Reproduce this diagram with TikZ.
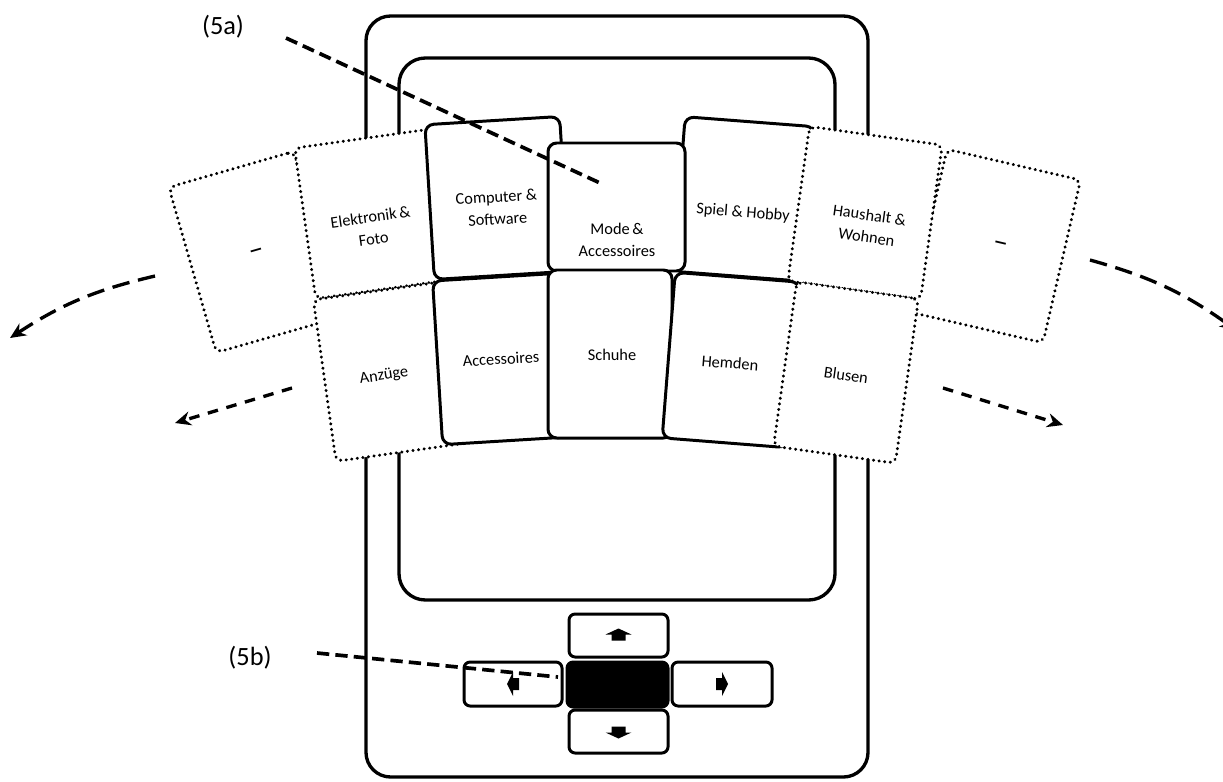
\documentclass[tikz,border=0pt]{standalone}
\usepackage{fontspec}
\setmainfont{Carlito}
\usetikzlibrary{arrows.meta}
\begin{document}
\begin{tikzpicture}[x=0.02cm,y=-0.02cm,
  devframe/.style n args={3}{draw,line width=1.9pt,rounded corners=#3,minimum width=#1*0.02cm,minimum height=#2*0.02cm,inner sep=0pt,outer sep=0pt},
  solidcard/.style n args={3}{draw,fill=white,line width=1.7pt,rounded corners=5pt,minimum width=#1*0.02cm,minimum height=#2*0.02cm,rotate=#3,inner sep=0pt,outer sep=0pt},
  dotcard/.style n args={3}{draw,fill=white,line width=1.8pt,line cap=round,dash pattern=on 0.1pt off 3.1pt,rounded corners=4pt,minimum width=#1*0.02cm,minimum height=#2*0.02cm,rotate=#3,inner sep=0pt,outer sep=0pt},
  lab/.style={font=\fontsize{9.3}{12.6}\selectfont,align=center,inner sep=0pt},
  dashlab/.style={font=\fontsize{17}{17}\selectfont,inner sep=0pt},
  btn/.style n args={2}{draw,line width=1.7pt,rounded corners=3.5pt,minimum width=#1*0.02cm,minimum height=#2*0.02cm,inner sep=0pt,outer sep=0pt},
  callout/.style={line width=2.1pt,dash pattern=on 7pt off 3.5pt},
  longdash/.style={line width=1.9pt,dash pattern=on 10pt off 5pt,-{Stealth[length=9pt,width=8pt]}},
  shortdash/.style={line width=1.9pt,dash pattern=on 6pt off 5pt,-{Stealth[length=9pt,width=8pt]}},
  reflab/.style={font=\fontsize{15}{15}\selectfont,inner sep=0pt}
]
\useasboundingbox (0,0) rectangle (1223,781);
\clip (0,0) rectangle (1223,781);
\fill[white] (0,0) rectangle (1223,781);

% device
\node[devframe={502}{761}{14pt}] (outer) at (617,396.5) {};
\node[devframe={436}{542}{15pt}] (screen) at (617,329) {};

% upper row of cards
\node[dotcard={130}{172}{16}] (u1) at (255,252) {};
\node[dotcard={137}{167}{-13}] (u7) at (995,246) {};
\node[dotcard={135}{152}{8}] (u2) at (372,214) {};
\node[solidcard={130}{155}{-4.4}] (u5) at (744,199) {};
\node[solidcard={135}{155}{3.5}] (u3) at (497,198) {};
\node[dotcard={134}{156}{-8}] (u6) at (865,213) {};
\node[solidcard={137}{128}{0}] (u4) at (616.5,207) {};

% lower row of cards
\node[dotcard={138}{163}{8}] (l1) at (393,371) {};
\node[solidcard={125}{164}{3.5}] (l2) at (500,359) {};
\node[solidcard={124}{168}{0}] (l3) at (610,354) {};
\node[solidcard={125}{166}{-4.5}] (l4) at (731,360) {};
\node[dotcard={123}{166}{-8}] (l5) at (846,372.5) {};

% card labels
\node[dashlab,rotate=16] (t1) at (257,254) {–};
\node[lab,rotate=8] (t2) at (372,228) {Elektronik\,\&\\Foto};
\node[lab,rotate=3.5] (t3) at (497,208) {Computer \&\\Software};
\node[lab] (t4) at (617,240) {Mode\,\&\\Accessoires};
\node[lab,rotate=-4.4] (t5) at (743,213) {Spiel \& Hobby};
\node[lab,rotate=-8] (t6) at (868,226) {Haushalt \&\\Wohnen};
\node[dashlab,rotate=-13] (t7) at (1000,247) {–};
\node[lab,rotate=8] (b1) at (384,376) {Anzüge};
\node[lab,rotate=3.5] (b2) at (501,359) {Accessoires};
\node[lab] (b3) at (612,355) {Schuhe};
\node[lab,rotate=-4.5] (b4) at (730,363) {Hemden};
\node[lab,rotate=-8] (b5) at (846,375) {Blusen};

% buttons
\node[btn={99}{43}] (bup) at (618.5,635.5) {};
\node[btn={101}{45},fill=black] (bok) at (617.5,684.5) {};
\node[btn={98}{44}] (bleft) at (513,684) {};
\node[btn={100}{44}] (bright) at (722,684) {};
\node[btn={99}{43}] (bdown) at (618.5,731.5) {};

\fill[shift={(bup.center)}] (0,-7) -- (13,-1) -- (7,-1) -- (7,5) -- (-7,5) -- (-7,-1) -- (-13,-1) -- cycle;
\fill[shift={(bdown.center)}] (0,7) -- (13,1) -- (7,1) -- (7,-5) -- (-7,-5) -- (-7,1) -- (-13,1) -- cycle;
\fill[shift={(bright.center)}] (6,0) -- (0,-12) -- (0,-6) -- (-6,-6) -- (-6,6) -- (0,6) -- (0,12) -- cycle;
\fill[shift={(bleft.center)}] (-6,0) -- (0,-12) -- (0,-6) -- (6,-6) -- (6,6) -- (0,6) -- (0,12) -- cycle;

% reference labels and callouts
\node[reflab] (r5a) at (223,27) {(5a)};
\node[reflab] (r5b) at (250,658) {(5b)};
\coordinate (s5a) at (286,38);
\coordinate (e5a) at (600,183);
\coordinate (s5b) at (317,653);
\coordinate (e5b) at (558,677);
\draw[callout] (s5a) -- (e5a);
\draw[callout] (s5b) -- (e5b);

% motion arrows
\coordinate (aS) at (155,276);
\coordinate (aE) at (10,338);
\coordinate (bS) at (292,388);
\coordinate (bE) at (175,423);
\coordinate (cS) at (1090,260);
\coordinate (cE) at (1236,330);
\coordinate (dS) at (943,388);
\coordinate (dE) at (1063,425);
\draw[longdash] (aS) to[bend right=10] (aE);
\draw[shortdash] (bS) -- (bE);
\draw[longdash] (cS) to[bend left=10] (cE);
\draw[shortdash] (dS) -- (dE);
\end{tikzpicture}
\end{document}
